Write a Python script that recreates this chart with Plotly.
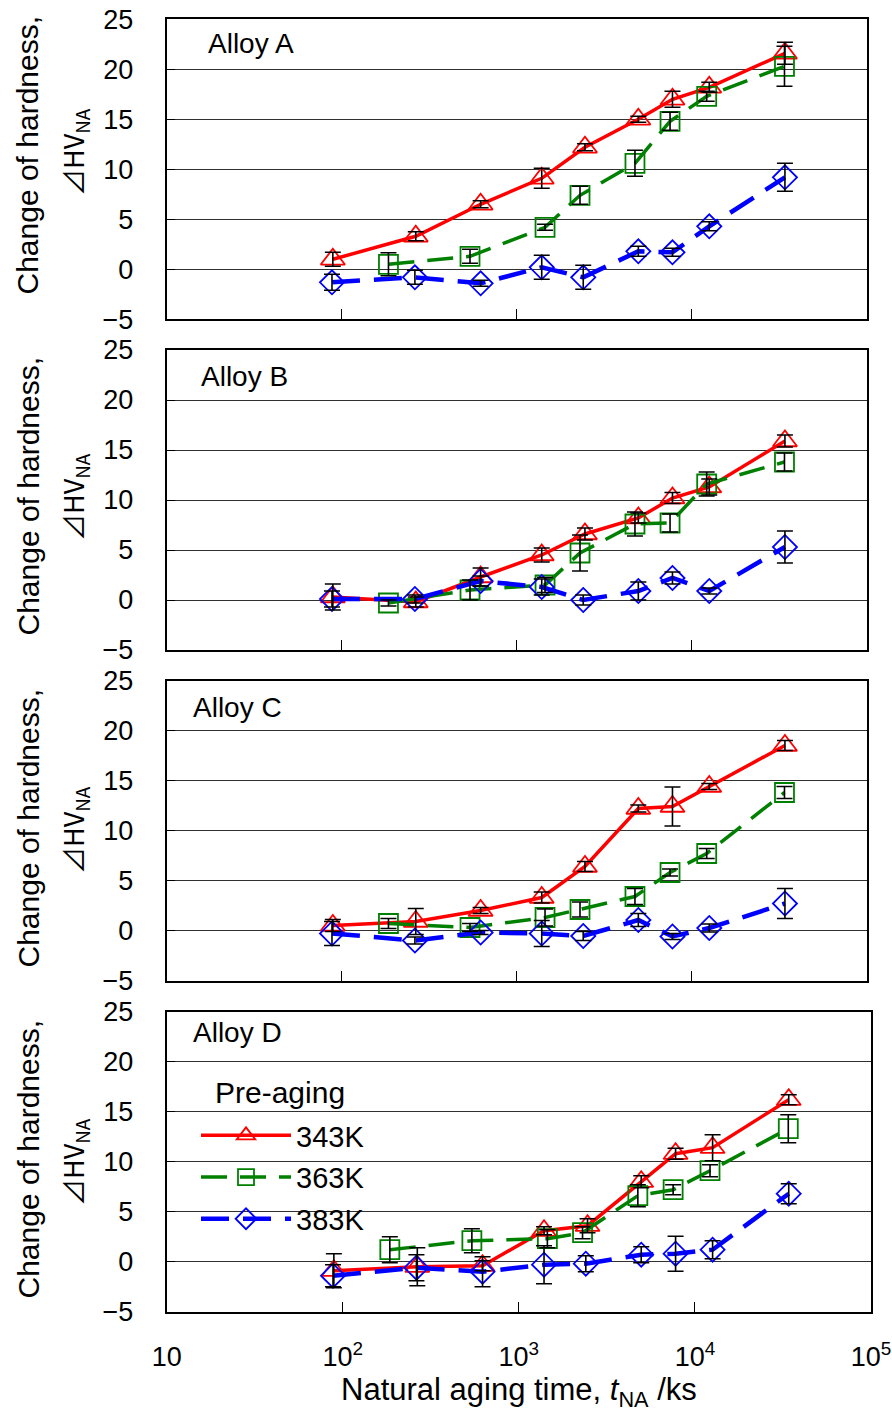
import plotly.graph_objects as go

# Natural aging times (ks) for each pre-aging temperature
t_343 = [89, 265, 622, 1390, 2455, 4955, 7765, 12600, 34100]
t_363 = [185, 541, 1452, 2300, 4740, 7520, 12180, 33900]
t_383 = [88, 262, 622, 1390, 2400, 4955, 7765, 12600, 34100]

alloys = ["Alloy A", "Alloy B", "Alloy C", "Alloy D"]

# Change of hardness and its scatter, per alloy
a_343 = [1.0, 3.3, 6.5, 9.1, 12.2, 15.0, 17.0, 18.2, 21.6]
a_343_err = [0.7, 0.45, 0.35, 1.0, 0.35, 0.3, 0.8, 0.5, 1.1]
a_363 = [0.5, 1.3, 4.2, 7.4, 10.6, 14.8, 17.3, 20.3]
a_363_err = [1.15, 0.7, 0.3, 0.9, 1.3, 0.9, 0.5, 2.0]
a_383 = [-1.3, -0.8, -1.4, 0.2, -0.8, 1.8, 1.7, 4.3, 9.2]
a_383_err = [0.8, 0.7, 0.3, 1.2, 1.2, 0.5, 0.4, 0.45, 1.4]

b_343 = [0.3, -0.2, 2.3, 4.5, 6.6, 8.2, 10.2, 11.3, 15.9]
b_343_err = [1.3, 0.5, 0.9, 0.7, 0.6, 0.5, 0.55, 0.8, 0.6]
b_363 = [-0.3, 1.0, 1.5, 4.7, 7.6, 7.7, 11.6, 13.8]
b_363_err = [0.3, 1.0, 0.75, 1.8, 1.2, 0.9, 1.2, 0.9]
b_383 = [0.1, 0.1, 1.9, 1.3, 0.0, 0.9, 2.2, 0.9, 5.3]
b_383_err = [0.8, 0.4, 0.5, 0.8, 0.5, 0.9, 0.6, 0.3, 1.6]

c_343 = [0.5, 0.9, 2.0, 3.3, 6.4, 12.2, 12.4, 14.4, 18.5]
c_343_err = [0.6, 1.3, 0.3, 0.55, 0.5, 0.35, 1.95, 0.3, 0.5]
c_363 = [0.7, 0.3, 1.3, 2.1, 3.4, 5.8, 7.7, 13.8]
c_363_err = [0.5, 0.4, 0.85, 0.75, 0.8, 0.35, 0.5, 0.6]
c_383 = [-0.3, -1.0, -0.2, -0.3, -0.55, 1.05, -0.6, 0.25, 2.7]
c_383_err = [1.2, 0.35, 0.2, 1.3, 0.45, 0.65, 0.3, 0.4, 1.5]

d_343 = [-0.9, -0.5, -0.4, 3.1, 3.6, 8.0, 10.8, 11.4, 16.2]
d_343_err = [1.7, 1.9, 0.5, 0.4, 0.7, 0.6, 0.55, 1.3, 0.5]
d_363 = [1.2, 2.1, 2.3, 2.9, 6.6, 7.2, 9.1, 13.3]
d_363_err = [1.3, 1.2, 0.9, 0.6, 1.1, 0.5, 0.6, 1.4]
d_383 = [-1.4, -0.6, -1.0, -0.3, -0.2, 0.7, 0.8, 1.2, 6.8]
d_383_err = [1.1, 1.3, 1.5, 1.9, 0.8, 0.8, 1.75, 0.9, 1.0]

panels = [
    (a_343, a_343_err, a_363, a_363_err, a_383, a_383_err),
    (b_343, b_343_err, b_363, b_363_err, b_383, b_383_err),
    (c_343, c_343_err, c_363, c_363_err, c_383, c_383_err),
    (d_343, d_343_err, d_363, d_363_err, d_383, d_383_err),
]

x_tickvals = [10, 100, 1000, 10000, 100000]
x_ticktext = ["10", "10<sup>2</sup>", "10<sup>3</sup>", "10<sup>4</sup>", "10<sup>5</sup>"]
y_tickvals = [-5, 0, 5, 10, 15, 20, 25]

series_style = [
    ("343K", "#ff0000", "solid", 3.5, "triangle-up-open", 21),
    ("363K", "#008000", "26px,13px", 3.5, "square-open", 19),
    ("383K", "#0000ff", "28px,14px", 4.5, "diamond-open", 18.5),
]
times = [t_343, t_363, t_383]

W, H = 892, 1414
FONT = "Liberation Sans, Arial, Noto Sans CJK JP, sans-serif"
CJK = "Noto Sans CJK JP, Liberation Sans, sans-serif"

# panel geometry (pixels from top-left of the page)
panel_top = [19.3, 350.0, 680.5, 1011.7]
panel_h = 300.0
panel_x = [(166.7, 866.7), (166.7, 866.7), (166.7, 866.7), (166.7, 871.0)]
alloy_label_pos = [(206, 44), (199, 376), (191, 707), (191, 1032)]
ytitle1_center = [155, 496, 828, 1159]
ytitle2_center = [152, 497, 830, 1162]

fig = go.Figure()
layout = dict(
    width=W, height=H,
    margin=dict(l=0, r=0, t=0, b=0),
    paper_bgcolor="white", plot_bgcolor="white",
    font=dict(family=FONT, color="black", size=27),
    showlegend=True,
)
annotations = []

for i, vals in enumerate(panels):
    k = "" if i == 0 else str(i + 1)
    xa, ya = "x" + k, "y" + k
    is_last = i == 3
    # data lines with markers
    for j, (name, color, dash, lw, sym, ms) in enumerate(series_style):
        fig.add_trace(go.Scatter(
            x=times[j], y=vals[2 * j], xaxis=xa, yaxis=ya,
            mode="lines+markers", name=name, legendgroup=name,
            showlegend=is_last,
            line=dict(color=color, width=lw, dash=dash),
            marker=dict(symbol=sym, size=ms, color=color,
                        line=dict(color=color, width=1.8)),
            hoverinfo="skip",
        ))
    # error bars drawn over the lines
    for j, (name, color, dash, lw, sym, ms) in enumerate(series_style):
        fig.add_trace(go.Scatter(
            x=times[j], y=vals[2 * j], xaxis=xa, yaxis=ya,
            mode="markers", showlegend=False, legendgroup=name,
            marker=dict(size=1, color="rgba(0,0,0,0)"),
            error_y=dict(type="data", array=vals[2 * j + 1], color="black",
                         thickness=1.6, width=8),
            hoverinfo="skip",
        ))

    top = panel_top[i]
    bot = top + panel_h
    x0, x1 = panel_x[i]
    layout["xaxis" + k] = dict(
        type="log", range=[1, 5], domain=[x0 / W, x1 / W], anchor=ya,
        tickvals=x_tickvals, ticktext=x_ticktext, showticklabels=is_last,
        ticks="inside", ticklen=10, tickwidth=1, tickcolor="black",
        showgrid=False, zeroline=False,
        showline=True, linecolor="black", linewidth=2, mirror=True,
        tickfont=dict(size=27), ticklabelstandoff=20, automargin=False,
    )
    layout["yaxis" + k] = dict(
        range=[-5, 25], domain=[1 - bot / H, 1 - top / H], anchor=xa,
        tickvals=y_tickvals, ticks="inside", ticklen=8, tickwidth=1,
        tickcolor="black", showgrid=True, gridcolor="#303030", gridwidth=1,
        zeroline=False, showline=True, linecolor="black", linewidth=2,
        mirror=True, tickfont=dict(size=27), ticklabelstandoff=26,
        automargin=False,
    )

    lx, ly = alloy_label_pos[i]
    annotations.append(dict(
        text=alloys[i], x=lx / W, y=1 - ly / H, xref="paper", yref="paper",
        xanchor="left", yanchor="middle", showarrow=False,
        font=dict(size=28),
    ))
    annotations.append(dict(
        text="Change of hardness,", x=27.5 / W, y=1 - ytitle1_center[i] / H,
        xref="paper", yref="paper", xanchor="center", yanchor="middle",
        textangle=-90, showarrow=False, font=dict(size=30),
    ))
    annotations.append(dict(
        text="⊿HV<sub>NA</sub>", x=74 / W, y=1 - ytitle2_center[i] / H,
        xref="paper", yref="paper", xanchor="center", yanchor="middle",
        textangle=-90, showarrow=False, font=dict(size=27, family=CJK),
    ))

annotations.append(dict(
    text="Pre-aging", x=280 / W, y=1 - 1092 / H, xref="paper", yref="paper",
    xanchor="center", yanchor="middle", showarrow=False, font=dict(size=30),
))
annotations.append(dict(
    text="Natural aging time, <i>t</i><sub>NA</sub> /ks", x=519 / W,
    y=1 - 1392 / H, xref="paper", yref="paper", xanchor="center",
    yanchor="middle", showarrow=False, font=dict(size=31),
))

layout["annotations"] = annotations
# white panel behind the legend entries: hides grid lines, sits under traces
layout["shapes"] = [dict(
    type="rect", xref="paper", yref="paper", layer="between",
    x0=187 / W, x1=373 / W, y0=1 - 1236 / H, y1=1 - 1118 / H,
    fillcolor="white", line=dict(width=0),
)]
layout["legend"] = dict(
    x=196 / W, y=1 - 1110 / H, xanchor="left", yanchor="top",
    bgcolor="rgba(0,0,0,0)", borderwidth=0, font=dict(size=29),
    itemwidth=90, traceorder="grouped", tracegroupgap=1,
)

fig.update_layout(**layout)
fig.write_html("out.html")
